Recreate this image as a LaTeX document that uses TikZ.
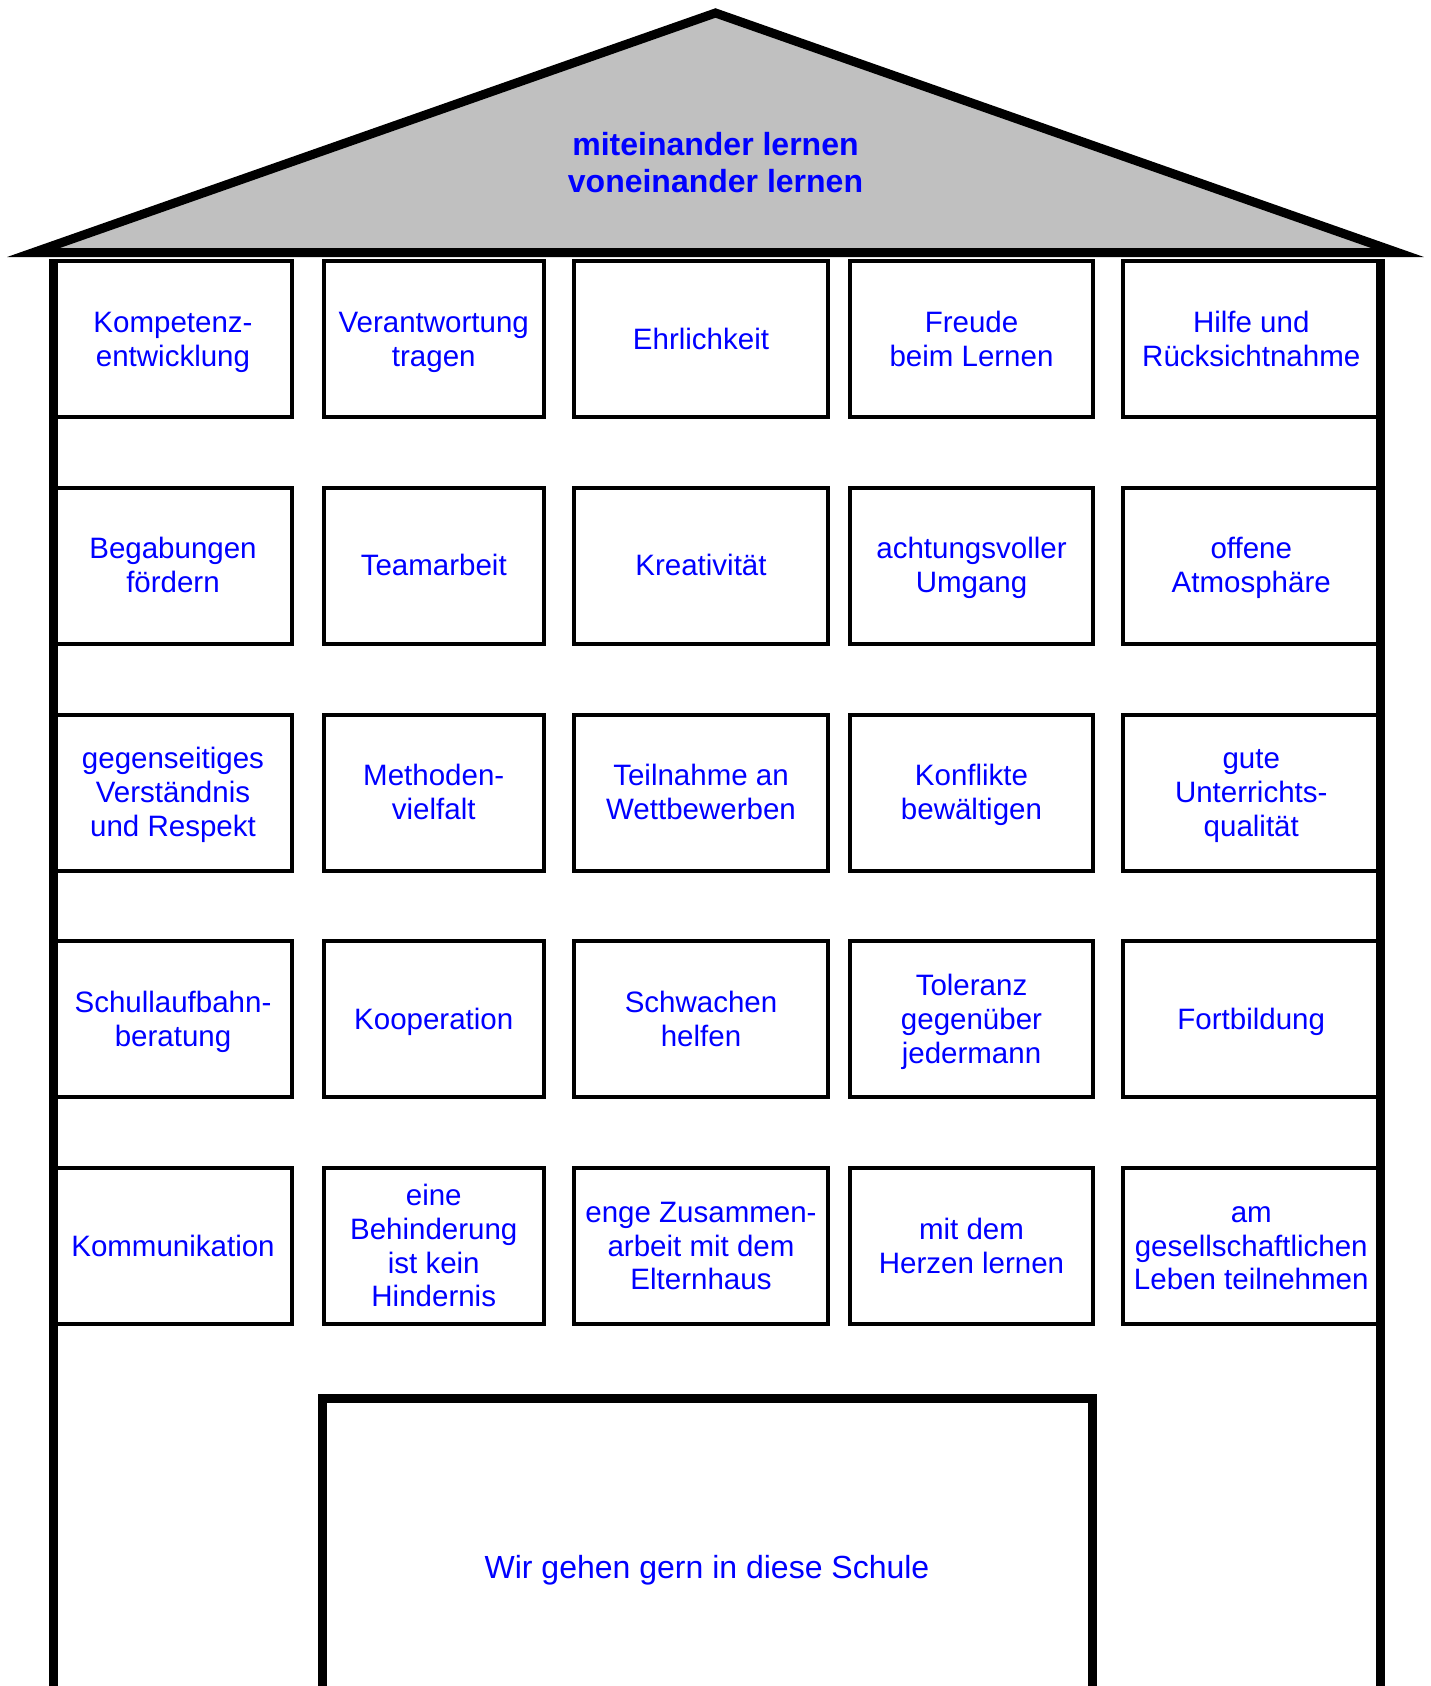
\documentclass[tikz,border=0pt]{standalone}
\usepackage{fontspec}
\setmainfont{Liberation Sans}
\definecolor{roofgray}{RGB}{192,192,192}
\definecolor{txtblue}{RGB}{0,0,255}
\newcommand\cs{\rule[-6.8pt]{0pt}{33.8pt}}
\begin{document}
\begin{tikzpicture}[x=1pt,y=-1pt,
  cell/.style={draw=black, line width=4pt, text=txtblue, align=center, inner sep=0pt,
    minimum height=156pt, font=\fontsize{29.5}{33.8}\selectfont},
  thick wall/.style={draw=black, line width=9pt, line join=miter, line cap=butt},
  title/.style={text=txtblue, align=center, font=\fontsize{32}{37}\selectfont\bfseries},
  plain/.style={text=txtblue, align=center, font=\fontsize{32}{37}\selectfont}]
\useasboundingbox (0,0) rectangle (1431,1686);
\fill[white] (0,0) rectangle (1431,1686);
% roof
\draw[thick wall, fill=roofgray] (33.5,252.5) -- (715.5,13) -- (1397.5,252.5) -- cycle;
\node[title] (roof) at (715.5,163) {miteinander lernen\\voneinander lernen};
% row 1
\node[cell, minimum width=238pt] (b11) at (173,339) {\cs Kompetenz-\\entwicklung\cs};
\node[cell, minimum width=220.5pt] (b12) at (433.75,339) {\cs Verantwortung\\tragen\cs};
\node[cell, minimum width=254pt] (b13) at (701,339) {\cs Ehrlichkeit\cs};
\node[cell, minimum width=243pt] (b14) at (971.5,339) {\cs Freude\\beim Lernen\cs};
\node[cell, minimum width=257.5pt] (b15) at (1251.25,339) {\cs Hilfe und\\Rücksichtnahme\cs};
% row 2
\node[cell, minimum width=238pt] (b21) at (173,565.75) {\cs Begabungen\\fördern\cs};
\node[cell, minimum width=220.5pt] (b22) at (433.75,565.75) {\cs Teamarbeit\cs};
\node[cell, minimum width=254pt] (b23) at (701,565.75) {\cs Kreativität\cs};
\node[cell, minimum width=243pt] (b24) at (971.5,565.75) {\cs achtungsvoller\\Umgang\cs};
\node[cell, minimum width=257.5pt] (b25) at (1251.25,565.75) {\cs offene\\Atmosphäre\cs};
% row 3
\node[cell, minimum width=238pt] (b31) at (173,792.5) {\cs gegenseitiges\\Verständnis\\und Respekt\cs};
\node[cell, minimum width=220.5pt] (b32) at (433.75,792.5) {\cs Methoden-\\vielfalt\cs};
\node[cell, minimum width=254pt] (b33) at (701,792.5) {\cs Teilnahme an\\Wettbewerben\cs};
\node[cell, minimum width=243pt] (b34) at (971.5,792.5) {\cs Konflikte\\bewältigen\cs};
\node[cell, minimum width=257.5pt] (b35) at (1251.25,792.5) {\cs gute\\Unterrichts-\\qualität\cs};
% row 4
\node[cell, minimum width=238pt] (b41) at (173,1019.25) {\cs Schullaufbahn-\\beratung\cs};
\node[cell, minimum width=220.5pt] (b42) at (433.75,1019.25) {\cs Kooperation\cs};
\node[cell, minimum width=254pt] (b43) at (701,1019.25) {\cs Schwachen\\helfen\cs};
\node[cell, minimum width=243pt] (b44) at (971.5,1019.25) {\cs Toleranz\\gegenüber\\jedermann\cs};
\node[cell, minimum width=257.5pt] (b45) at (1251.25,1019.25) {\cs Fortbildung\cs};
% row 5
\node[cell, minimum width=238pt] (b51) at (173,1246) {\cs Kommunikation\cs};
\node[cell, minimum width=220.5pt] (b52) at (433.75,1246) {\cs eine\\Behinderung\\ist kein\\Hindernis\cs};
\node[cell, minimum width=254pt] (b53) at (701,1246) {\cs enge Zusammen-\\arbeit mit dem\\Elternhaus\cs};
\node[cell, minimum width=243pt] (b54) at (971.5,1246) {\cs mit dem\\Herzen lernen\cs};
\node[cell, minimum width=257.5pt] (b55) at (1251.25,1246) {\cs am\\gesellschaftlichen\\Leben teilnehmen\cs};
% walls
\draw[thick wall] (53.5,259) -- (53.5,1690);
\draw[thick wall] (1380.5,259) -- (1380.5,1690);
% door
\draw[thick wall] (322.5,1690) -- (322.5,1398.5) -- (1092.5,1398.5) -- (1092.5,1690);
\node[plain] (door) at (707,1570) {Wir gehen gern in diese Schule};
\end{tikzpicture}
\end{document}
